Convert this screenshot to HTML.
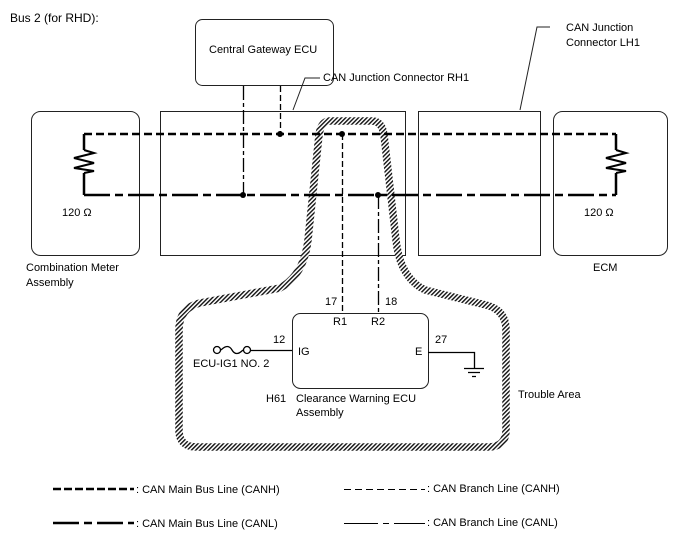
<!DOCTYPE html>
<html><head><meta charset="utf-8"><style>
html,body{margin:0;padding:0;background:#fff;}
svg{display:block;font-family:"Liberation Sans",Arial,sans-serif;font-size:11px;}
</style></head><body>
<svg width="688" height="560" viewBox="0 0 688 560" xmlns="http://www.w3.org/2000/svg">
<defs>
<pattern id="h" width="3" height="3" patternUnits="userSpaceOnUse" patternTransform="rotate(45)">
<rect width="3" height="3" fill="#fff"/><rect width="1.4" height="3" fill="#111"/>
</pattern>
</defs>
<text x="10" y="22" font-size="12">Bus 2 (for RHD):</text>
<g fill="none" stroke="#222" stroke-width="1">
<rect x="195.5" y="19.5" width="138" height="66" rx="7"/>
<rect x="160.5" y="111.5" width="245" height="144"/>
<rect x="418.5" y="111.5" width="122" height="144"/>
<rect x="31.5" y="111.5" width="108" height="144" rx="9"/>
<rect x="553.5" y="111.5" width="114" height="144" rx="9"/>
<rect x="292.5" y="313.5" width="136" height="75" rx="8"/>
<polyline points="293,110 305,78 320,78"/>
<polyline points="520,110 537,27 550,27"/>
</g>
<path d="M330,121 Q321,121 319,135 L308,240 Q304,275 280,288 L200,303 Q179,308 179,330 L179,430 Q179,447 197,447 L488,447 Q506,447 506,430 L506,330 Q506,310 486,305 L425,290 Q400,278 396,240 L384,135 Q382,121 372,121 Z" fill="none" stroke="url(#h)" stroke-width="7.5"/>
<g stroke="#000" stroke-width="2.5" fill="none">
<path d="M84,134 L616,134" stroke-dasharray="8,4"/>
<path d="M84,195 L616,195" stroke-dasharray="26,5,8,5"/>
<path d="M84,134 V150 M84,173 V195 M616,134 V150 M616,173 V195" />
<polyline points="84,150 94,153 74,158 94,163 74,168 94,171 84,173" stroke-width="2"/>
<polyline points="616,150 626,153 606,158 626,163 606,168 626,171 616,173" stroke-width="2"/>
</g>
<g stroke="#000" stroke-width="1.3" fill="none">
<path d="M243.5,86 V195" stroke-dasharray="14,3,4,3"/>
<path d="M280.5,86 V134" stroke-dasharray="6,3"/>
<path d="M342.5,134 V313" stroke-dasharray="6,3"/>
<path d="M378.5,195 V313" stroke-dasharray="14,3,4,3"/>
<path d="M251,350.5 H292 M428,352.5 H474.5 V368 M464,368.5 H484 M468,372.5 H480 M472,376.5 H476"/>
<circle cx="217" cy="350" r="3.5"/><circle cx="247" cy="350" r="3.5"/>
<path d="M221,350 Q228,343 232,350 Q236,357 243,350"/>
</g>
<g fill="#000">
<circle cx="243" cy="195" r="3"/><circle cx="280" cy="134" r="3"/>
<circle cx="342" cy="134" r="3"/><circle cx="378" cy="195" r="3"/>
</g>
<text x="209" y="53">Central Gateway ECU</text>
<text x="323" y="81">CAN Junction Connector RH1</text>
<text x="566" y="31">CAN Junction</text>
<text x="566" y="46">Connector LH1</text>
<text x="62" y="216">120 Ω</text>
<text x="584" y="216">120 Ω</text>
<text x="26" y="271">Combination Meter</text>
<text x="26" y="286">Assembly</text>
<text x="593" y="271">ECM</text>
<text x="325" y="305">17</text><text x="385" y="305">18</text>
<text x="333" y="325">R1</text><text x="371" y="325">R2</text>
<text x="273" y="343">12</text><text x="298" y="355">IG</text>
<text x="415" y="355">E</text><text x="435" y="343">27</text>
<text x="193" y="367">ECU-IG1 NO. 2</text>
<text x="266" y="402">H61</text>
<text x="296" y="402">Clearance Warning ECU</text>
<text x="296" y="416">Assembly</text>
<text x="518" y="398">Trouble Area</text>
<g stroke="#000" fill="none">
<path d="M53,489 H134" stroke-width="2.5" stroke-dasharray="8,3"/>
<path d="M53,523 H134" stroke-width="2.5" stroke-dasharray="26,5,8,5"/>
<path d="M344,489.5 H425" stroke-width="1" stroke-dasharray="7,4"/>
<path d="M344,523.5 H425" stroke-width="1" stroke-dasharray="34,5,6,5"/>
</g>
<text x="136" y="493">: CAN Main Bus Line (CANH)</text>
<text x="136" y="527">: CAN Main Bus Line (CANL)</text>
<text x="427" y="492">: CAN Branch Line (CANH)</text>
<text x="427" y="526">: CAN Branch Line (CANL)</text>
</svg>
</body></html>
